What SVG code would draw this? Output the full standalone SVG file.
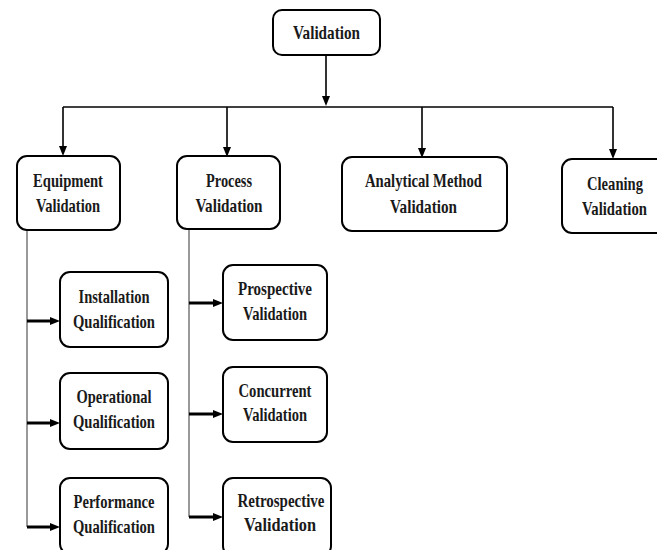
<svg xmlns="http://www.w3.org/2000/svg" width="657" height="550" viewBox="0 0 657 550">
<style>
.box{fill:#fff;stroke:#000;stroke-width:2}
.t{font-family:"Liberation Serif","Times New Roman",serif;font-weight:bold;font-size:19px;fill:#1a1a1a;text-anchor:middle}
.c{fill:none;stroke:#000;stroke-width:1.6}
.thin{fill:none;stroke:#555;stroke-width:1.2}
.h{fill:none;stroke:#000;stroke-width:3}
</style>
<defs>
<marker id="ad" markerUnits="userSpaceOnUse" markerWidth="10" markerHeight="10" refX="2" refY="4" orient="auto">
<path d="M0,0 L10,4 L0,8 z" fill="#000"/>
</marker>
<marker id="ah" markerUnits="userSpaceOnUse" markerWidth="10" markerHeight="10" refX="2" refY="4" orient="auto">
<path d="M0,0 L10,4 L0,8 z" fill="#000"/>
</marker>
</defs>
<rect width="657" height="550" fill="#fff"/>
<g id="connectors">
<line class="c" x1="326" y1="55" x2="326" y2="98" marker-end="url(#ad)"/>
<line class="c" x1="63" y1="107" x2="613" y2="107"/>
<line class="c" x1="63" y1="107" x2="63" y2="148" marker-end="url(#ad)"/>
<line class="c" x1="227" y1="107" x2="227" y2="149" marker-end="url(#ad)"/>
<line class="c" x1="422" y1="107" x2="422" y2="150" marker-end="url(#ad)"/>
<line class="c" x1="613" y1="107" x2="613" y2="151" marker-end="url(#ad)"/>
<line class="thin" x1="27" y1="230" x2="27" y2="527"/>
<line class="thin" x1="189" y1="229" x2="189" y2="517"/>
<line class="h" x1="27" y1="321" x2="52" y2="321" marker-end="url(#ah)"/>
<line class="h" x1="27" y1="423" x2="52" y2="423" marker-end="url(#ah)"/>
<line class="h" x1="27" y1="527" x2="52" y2="527" marker-end="url(#ah)"/>
<line class="h" x1="189" y1="303" x2="215" y2="303" marker-end="url(#ah)"/>
<line class="h" x1="189" y1="414" x2="215" y2="414" marker-end="url(#ah)"/>
<line class="h" x1="189" y1="517" x2="215" y2="517" marker-end="url(#ah)"/>
</g>
<g id="validation">
<rect class="box" x="273" y="10" width="107" height="45" rx="9"/>
<text class="t" x="326.5" y="39" textLength="67" lengthAdjust="spacingAndGlyphs">Validation</text>
</g>
<g id="equipment">
<rect class="box" x="17" y="156" width="103" height="74" rx="10"/>
<text class="t" x="68" y="187" textLength="70" lengthAdjust="spacingAndGlyphs">Equipment</text>
<text class="t" x="68" y="212" textLength="64" lengthAdjust="spacingAndGlyphs">Validation</text>
</g>
<g id="process">
<rect class="box" x="177" y="156" width="103" height="73" rx="10"/>
<text class="t" x="229" y="187" textLength="46" lengthAdjust="spacingAndGlyphs">Process</text>
<text class="t" x="229" y="212" textLength="67" lengthAdjust="spacingAndGlyphs">Validation</text>
</g>
<g id="analytical">
<rect class="box" x="342" y="157" width="165" height="74" rx="10"/>
<text class="t" x="423.5" y="187" textLength="117" lengthAdjust="spacingAndGlyphs">Analytical Method</text>
<text class="t" x="423.5" y="213" textLength="67" lengthAdjust="spacingAndGlyphs">Validation</text>
</g>
<g id="cleaning">
<rect class="box" x="562" y="159" width="110" height="74" rx="10"/>
<text class="t" x="615" y="190" textLength="56" lengthAdjust="spacingAndGlyphs">Cleaning</text>
<text class="t" x="614.5" y="215" textLength="65" lengthAdjust="spacingAndGlyphs">Validation</text>
</g>
<g id="installation">
<rect class="box" x="60" y="272" width="108" height="75" rx="10"/>
<text class="t" x="114" y="303" textLength="71" lengthAdjust="spacingAndGlyphs">Installation</text>
<text class="t" x="114" y="328" textLength="82" lengthAdjust="spacingAndGlyphs">Qualification</text>
</g>
<g id="operational">
<rect class="box" x="60" y="373" width="108" height="76" rx="10"/>
<text class="t" x="114" y="403" textLength="75" lengthAdjust="spacingAndGlyphs">Operational</text>
<text class="t" x="114" y="428" textLength="82" lengthAdjust="spacingAndGlyphs">Qualification</text>
</g>
<g id="performance">
<rect class="box" x="60" y="478" width="108" height="76" rx="10"/>
<text class="t" x="114" y="508" textLength="81" lengthAdjust="spacingAndGlyphs">Performance</text>
<text class="t" x="114" y="533" textLength="82" lengthAdjust="spacingAndGlyphs">Qualification</text>
</g>
<g id="prospective">
<rect class="box" x="223" y="265" width="104" height="75" rx="10"/>
<text class="t" x="275" y="295" textLength="74" lengthAdjust="spacingAndGlyphs">Prospective</text>
<text class="t" x="275" y="320" textLength="64" lengthAdjust="spacingAndGlyphs">Validation</text>
</g>
<g id="concurrent">
<rect class="box" x="223" y="367" width="104" height="75" rx="10"/>
<text class="t" x="275" y="397" textLength="73" lengthAdjust="spacingAndGlyphs">Concurrent</text>
<text class="t" x="275" y="421" textLength="64" lengthAdjust="spacingAndGlyphs">Validation</text>
</g>
<g id="retrospective">
<rect class="box" x="223" y="478" width="108" height="78" rx="10"/>
<text class="t" x="281" y="507" textLength="87" lengthAdjust="spacingAndGlyphs">Retrospective</text>
<text class="t" x="280" y="531" textLength="72" lengthAdjust="spacingAndGlyphs">Validation</text>
</g>
</svg>
